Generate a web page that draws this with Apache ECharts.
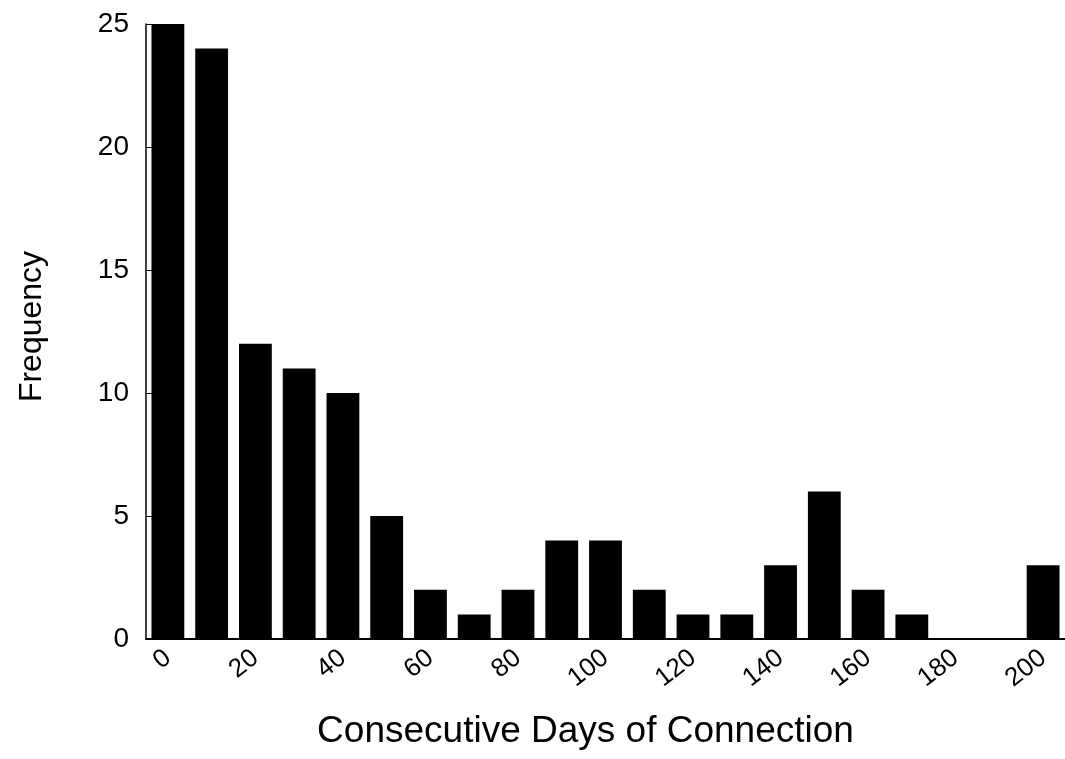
<!DOCTYPE html>
<html>
<head>
<meta charset="utf-8">
<script src="https://cdn.jsdelivr.net/npm/echarts@6/dist/echarts.min.js"></script>
<style>
  html, body { margin: 0; padding: 0; background: #fff; }
  #main { width: 1065px; height: 759px; }
</style>
</head>
<body>
<div id="main"></div>
<script>
var days = ["0", "10", "20", "30", "40", "50", "60", "70", "80", "90", "100",
  "110", "120", "130", "140", "150", "160", "170", "180", "190", "200"];
var frequency = [25, 24, 12, 11, 10, 5, 2, 1, 2, 4, 4, 2, 1, 1, 3, 6, 2, 1, 0, 0, 3];

var font = "Liberation Sans, Arial, Helvetica, sans-serif";
var chart = echarts.init(document.getElementById("main"));

chart.setOption({
  animation: false,
  grid: {
    left: 146,
    right: -2,
    top: 24,
    bottom: 120,
  },
  xAxis: {
    type: "category",
    data: days,
    boundaryGap: true,
    name: "Consecutive Days of Connection",
    nameLocation: "middle",
    nameGap: 74,
    nameTextStyle: {
      fontFamily: font,
      fontSize: 37,
      color: "#000",
      padding: [0, 40, 0, 0],
    },
    axisLine: {
      lineStyle: { color: "#000", width: 2 },
    },
    axisTick: { show: false },
    axisLabel: {
      interval: 1,
      rotate: 38,
      margin: 16,
      fontFamily: font,
      fontSize: 26,
      color: "#000",
    },
    splitLine: { show: false },
  },
  yAxis: {
    type: "value",
    min: 0,
    max: 25,
    interval: 5,
    name: "Frequency",
    nameLocation: "middle",
    nameGap: 98,
    nameTextStyle: {
      fontFamily: font,
      fontSize: 32,
      color: "#000",
      padding: [0, 0, 0, 10],
    },
    axisLine: {
      show: true,
      lineStyle: { color: "#000", width: 1.5 },
    },
    axisTick: {
      show: true,
      inside: true,
      length: 6,
      lineStyle: { color: "#000" },
    },
    axisLabel: {
      margin: 17,
      fontFamily: font,
      fontSize: 28,
      color: "#000",
    },
    splitLine: { show: false },
  },
  series: [
    {
      type: "bar",
      data: frequency,
      barWidth: "75%",
      itemStyle: {
        color: "#000",
      },
    },
  ],
});
</script>
</body>
</html>
